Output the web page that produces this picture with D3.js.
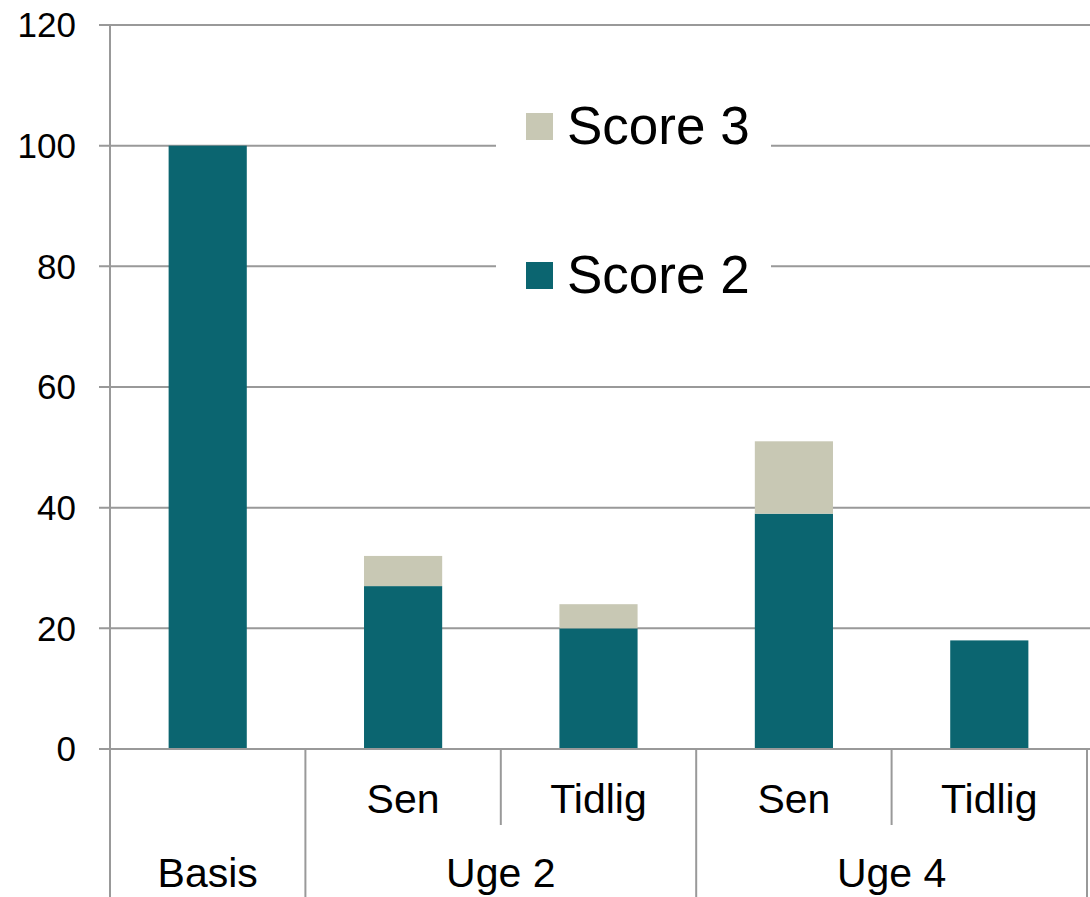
<!DOCTYPE html>
<html>
<head>
<meta charset="utf-8">
<script src="https://cdn.jsdelivr.net/npm/d3@7"></script>
<style>
  body { margin: 0; background: #fff; }
  svg text { font-family: "Liberation Sans", Arial, sans-serif; fill: #000; }
</style>
</head>
<body>
<script>
var groups = ["Basis", "Uge 2", "Uge 2", "Uge 4", "Uge 4"];
var subLabels = ["", "Sen", "Tidlig", "Sen", "Tidlig"];
var score2 = [100, 27, 20, 39, 18];
var score3 = [0, 5, 4, 12, 0];
var yTicks = [0, 20, 40, 60, 80, 100, 120];
var seriesNames = ["Score 2", "Score 3"];
var colors = { "Score 2": "#0b6570", "Score 3": "#c8c8b4" };

var width = 1090, height = 897;
var plotLeft = 110, plotRight = 1087, plotTop = 25, plotBottom = 749;

var svg = d3.select("body")
    .append("svg")
    .attr("width", width)
    .attr("height", height);

var rows = groups.map(function(g, i) {
    return { idx: i, group: g, sub: subLabels[i], "Score 2": score2[i], "Score 3": score3[i] };
});

var x = d3.scaleBand()
    .domain(d3.range(rows.length))
    .range([plotLeft, plotRight])
    .paddingInner(0.6)
    .paddingOuter(0.3);

var y = d3.scaleLinear()
    .domain([0, 120])
    .range([plotBottom, plotTop]);

var step = x.step();

// gridlines
svg.append("g")
    .selectAll("line")
    .data(yTicks)
    .enter().append("line")
    .attr("x1", plotLeft - 11)
    .attr("x2", width)
    .attr("y1", function(d) { return y(d); })
    .attr("y2", function(d) { return y(d); })
    .style("stroke", "#999")
    .style("stroke-width", 2);

// y tick labels
svg.append("g")
    .selectAll("text")
    .data(yTicks)
    .enter().append("text")
    .attr("x", 76)
    .attr("y", function(d) { return y(d); })
    .attr("dy", "0.35em")
    .attr("text-anchor", "end")
    .style("font-size", "35px")
    .text(function(d) { return d; });

// stacked bars
var stacked = d3.stack().keys(seriesNames)(rows);

svg.append("g")
    .selectAll("g")
    .data(stacked)
    .enter().append("g")
    .style("fill", function(s) { return colors[s.key]; })
    .selectAll("rect")
    .data(function(s) { return s; })
    .enter().append("rect")
    .attr("x", function(d) { return x(d.data.idx); })
    .attr("width", x.bandwidth())
    .attr("y", function(d) { return y(d[1]); })
    .attr("height", function(d) { return y(d[0]) - y(d[1]); });

// axes lines
svg.append("line")
    .attr("x1", plotLeft).attr("x2", plotLeft)
    .attr("y1", plotTop).attr("y2", height)
    .style("stroke", "#999").style("stroke-width", 2);

svg.append("line")
    .attr("x1", plotLeft - 11).attr("x2", plotRight + 1)
    .attr("y1", plotBottom).attr("y2", plotBottom)
    .style("stroke", "#999").style("stroke-width", 2);

// category separators
var seps = d3.range(1, rows.length + 1).map(function(i) {
    var full = i === rows.length || groups[i] !== groups[i - 1];
    return { x: plotLeft + step * i, full: full };
});

svg.append("g")
    .selectAll("line")
    .data(seps)
    .enter().append("line")
    .attr("x1", function(d) { return d.x; })
    .attr("x2", function(d) { return d.x; })
    .attr("y1", plotBottom)
    .attr("y2", function(d) { return d.full ? height : 825; })
    .style("stroke", "#999")
    .style("stroke-width", 2);

// sub labels
svg.append("g")
    .selectAll("text")
    .data(rows.filter(function(r) { return r.sub; }))
    .enter().append("text")
    .attr("x", function(d) { return x(d.idx) + x.bandwidth() / 2; })
    .attr("y", 813)
    .attr("text-anchor", "middle")
    .style("font-size", "41px")
    .text(function(d) { return d.sub; });

// group labels
var groupNames = Array.from(new Set(groups));
svg.append("g")
    .selectAll("text")
    .data(groupNames)
    .enter().append("text")
    .attr("x", function(g) {
        var idx = d3.range(rows.length).filter(function(i) { return groups[i] === g; });
        return (x(idx[0]) + x(idx[idx.length - 1]) + x.bandwidth()) / 2;
    })
    .attr("y", 887)
    .attr("text-anchor", "middle")
    .style("font-size", "41px")
    .text(function(g) { return g; });

// legend
var legend = svg.append("g");
legend.append("rect")
    .attr("x", 496).attr("y", 92)
    .attr("width", 275).attr("height", 210)
    .style("fill", "#fff");

var legendItems = ["Score 3", "Score 2"];
legendItems.forEach(function(k, i) {
    var cy = 127 + i * 149;
    legend.append("rect")
        .attr("x", 526).attr("y", cy - 14)
        .attr("width", 27).attr("height", 27)
        .style("fill", colors[k]);
    legend.append("text")
        .attr("x", 567).attr("y", cy + 17)
        .style("font-size", "53px")
        .text(k);
});
</script>
</body>
</html>
